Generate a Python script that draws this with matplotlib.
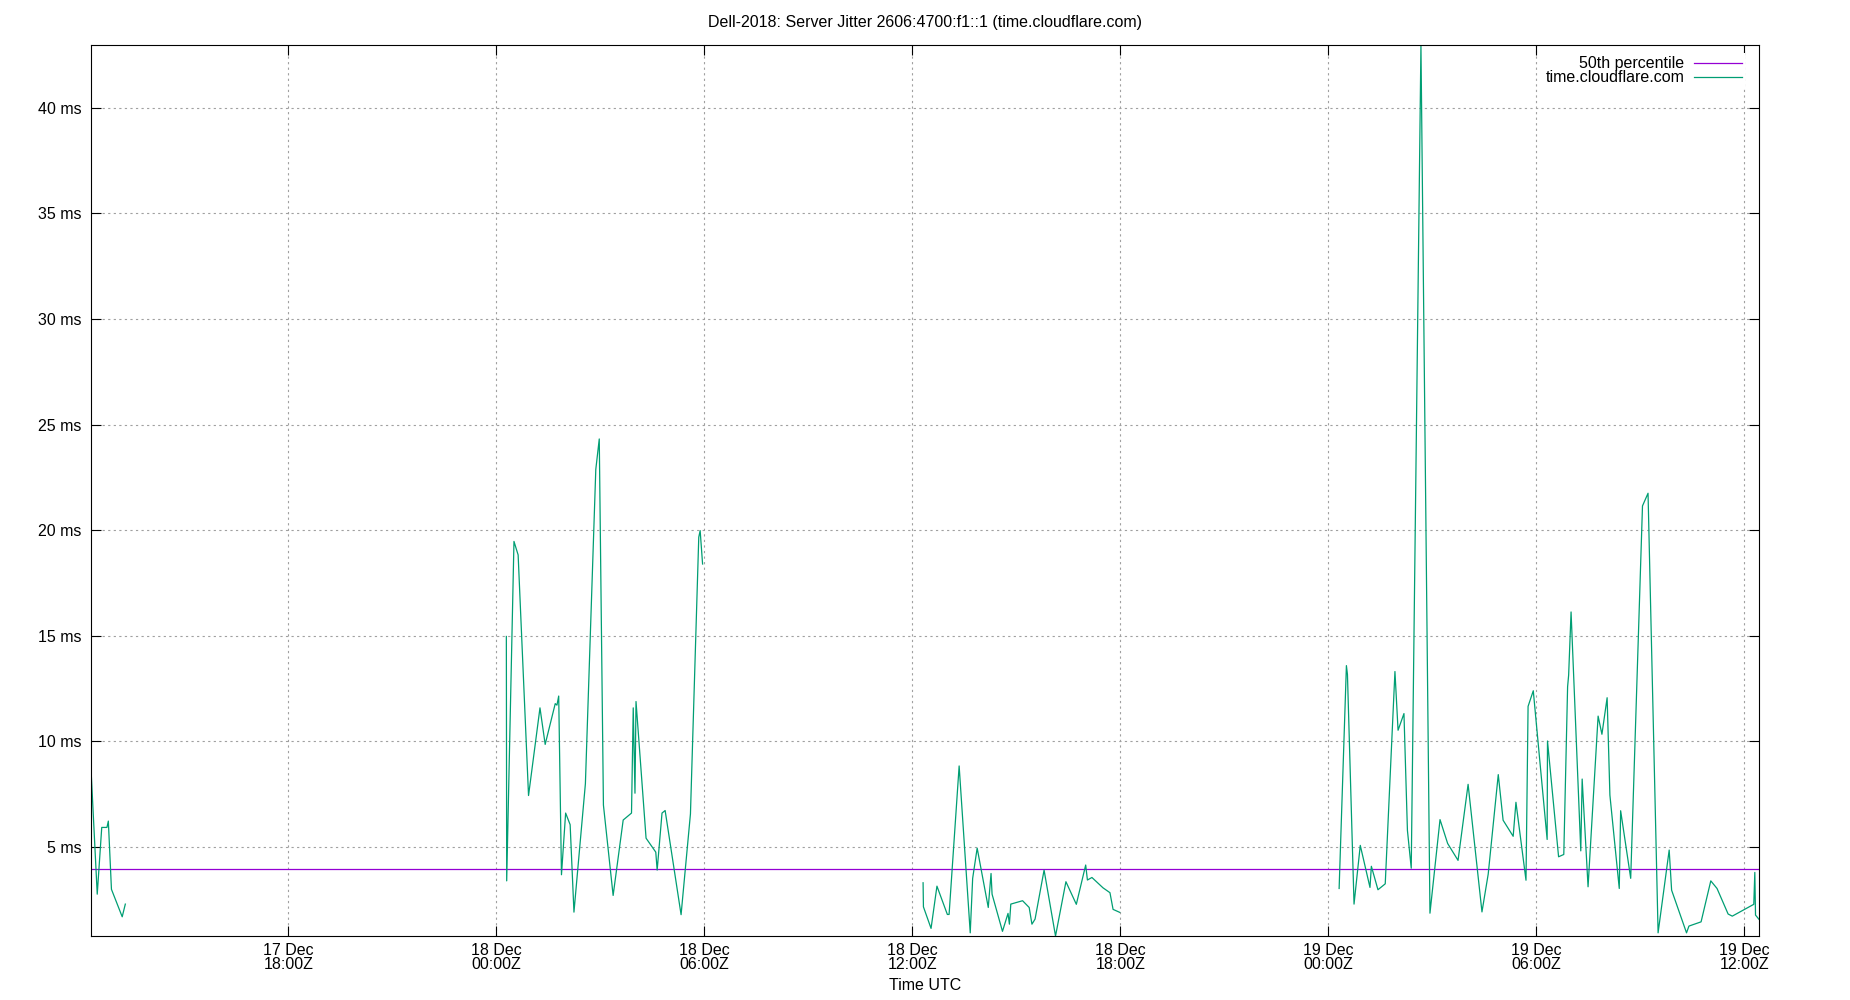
import numpy as np
import matplotlib.pyplot as plt

plt.rcParams['font.family'] = ['Liberation Sans', 'DejaVu Sans']
plt.rcParams['font.size'] = 11.5

# time in hours since 17 Dec 00:00Z, jitter in ms (gaps between runs)
run1_hours = [12.30, 12.49, 12.62, 12.77, 12.81, 12.90, 13.21, 13.30]
run1_ms = [9.04, 2.77, 5.93, 5.93, 6.23, 3.00, 1.70, 2.30]

run2_hours = [24.29, 24.30, 24.51, 24.63, 24.93, 25.26, 25.41, 25.70, 25.75, 25.80,
              25.88, 26.00, 26.13, 26.24, 26.57, 26.87, 26.97, 27.09, 27.37, 27.66,
              27.90, 27.95, 28.00, 28.03, 28.32, 28.60, 28.64, 28.78, 28.87, 29.33,
              29.60, 29.84, 29.88, 29.95]
run2_ms = [14.97, 3.40, 19.47, 18.83, 7.44, 11.59, 9.86, 11.79, 11.72, 12.15,
           3.69, 6.61, 6.06, 1.92, 8.00, 22.88, 24.32, 6.99, 2.71, 6.28,
           6.61, 11.59, 7.55, 11.89, 5.42, 4.76, 3.91, 6.61, 6.73, 1.80,
           6.57, 19.67, 19.98, 18.40]

run3_hours = [36.31, 36.32, 36.54, 36.71, 37.01, 37.06, 37.35, 37.67, 37.74, 37.87,
              38.19, 38.27, 38.30, 38.60, 38.76, 38.80, 38.84, 39.18, 39.37, 39.45,
              39.54, 39.80, 40.13, 40.43, 40.73, 41.00, 41.05, 41.18, 41.50, 41.70,
              41.79, 41.98]
run3_ms = [3.31, 2.17, 1.15, 3.15, 1.81, 1.81, 8.84, 0.94, 3.52, 4.95,
           2.14, 3.75, 2.77, 1.01, 1.86, 1.35, 2.30, 2.46, 2.14, 1.35,
           1.59, 3.91, 0.79, 3.36, 2.29, 4.15, 3.44, 3.56, 3.07, 2.84,
           2.05, 1.91]

run4_hours = [48.31, 48.52, 48.55, 48.74, 48.92, 49.20, 49.24, 49.43, 49.64, 49.92,
              50.01, 50.18, 50.28, 50.39, 50.67, 50.93, 51.22, 51.44, 51.74, 52.03,
              52.43, 52.61, 52.90, 53.04, 53.33, 53.41, 53.70, 53.76, 53.91, 54.31,
              54.32, 54.64, 54.79, 54.90, 54.93, 55.00, 55.28, 55.32, 55.49, 55.78,
              55.89, 56.04, 56.12, 56.39, 56.43, 56.72, 57.06, 57.22, 57.51, 57.83,
              57.90, 58.33, 58.40, 58.75, 59.03, 59.21, 59.53, 59.65, 60.27, 60.30,
              60.32, 60.42]
run4_ms = [3.04, 13.59, 13.17, 2.30, 5.08, 3.09, 4.09, 2.98, 3.26, 13.31,
           10.53, 11.32, 5.79, 4.00, 42.97, 1.87, 6.30, 5.17, 4.37, 7.97,
           1.93, 3.72, 8.43, 6.27, 5.51, 7.12, 3.43, 11.66, 12.40, 5.36,
           10.02, 4.54, 4.65, 12.59, 13.14, 16.13, 4.82, 8.22, 3.12, 11.20,
           10.34, 12.07, 7.46, 3.04, 6.72, 3.52, 21.15, 21.75, 0.94, 4.86,
           2.96, 0.94, 1.26, 1.46, 3.40, 3.04, 1.83, 1.73, 2.29, 3.80,
           1.78, 1.58]

p50_ms = 3.94

xtick_hours = [18, 24, 30, 36, 42, 48, 54, 60]
xtick_labels = ['17 Dec\n18:00Z', '18 Dec\n00:00Z', '18 Dec\n06:00Z', '18 Dec\n12:00Z',
                '18 Dec\n18:00Z', '19 Dec\n00:00Z', '19 Dec\n06:00Z', '19 Dec\n12:00Z']
ytick_ms = [5, 10, 15, 20, 25, 30, 35, 40]

runs = [(run1_hours, run1_ms), (run2_hours, run2_ms),
        (run3_hours, run3_ms), (run4_hours, run4_ms)]
hours = []
jitter = []
for h, v in runs:
    hours += h + [np.nan]
    jitter += v + [np.nan]
hours = np.array(hours)
jitter = np.array(jitter)

fig = plt.figure(figsize=(18.5, 10), dpi=100)
ax = fig.add_axes([0.049, 0.064, 0.9018, 0.891])

ax.axhline(p50_ms, color='#9400d3', linewidth=0.9, label='50th percentile')
ax.plot(hours, jitter, color='#009e73', linewidth=0.9, label='time.cloudflare.com')

ax.set_xlim(np.nanmin(hours), np.nanmax(hours))
ax.set_ylim(np.nanmin(jitter), np.nanmax(jitter))

ax.set_xticks(xtick_hours, xtick_labels)
for lbl in ax.get_xticklabels():
    lbl.set_linespacing(0.95)
ax.set_yticks(ytick_ms, [f'{v} ms' for v in ytick_ms])

ax.grid(True, color='#a0a0a0', linestyle=(0, (2, 3)), linewidth=0.8)
ax.set_axisbelow(True)
ax.tick_params(direction='in', length=7, width=0.8, top=True, right=True)
ax.tick_params(axis='y', pad=6.5)
ax.tick_params(axis='x', pad=5)
for s in ax.spines.values():
    s.set_linewidth(0.8)

ax.legend(loc='upper right', bbox_to_anchor=(0.9916, 0.991), frameon=True,
          facecolor='white', edgecolor='none', framealpha=1, fancybox=False,
          markerfirst=False, handlelength=3, handletextpad=0.6,
          labelspacing=-0.05, borderpad=0.2, borderaxespad=0)

fig.text(0.5, 0.977, 'Dell-2018: Server Jitter 2606:4700:f1::1 (time.cloudflare.com)',
         ha='center', va='center')
fig.text(0.5, 0.014, 'Time UTC', ha='center', va='center')

fig.savefig('out.png')
